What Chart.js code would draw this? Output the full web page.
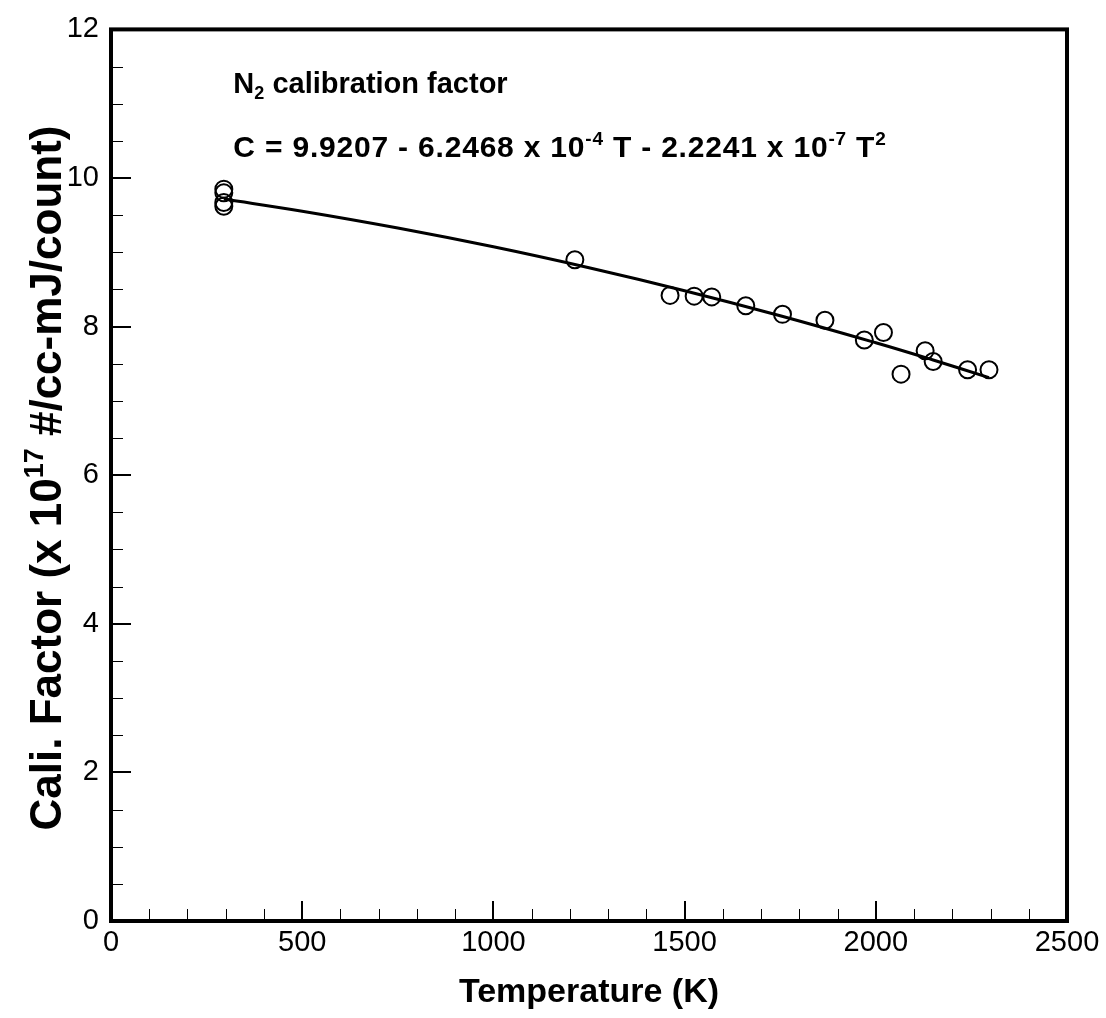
<!DOCTYPE html>
<html>
<head>
<meta charset="utf-8">
<script src="https://cdn.jsdelivr.net/npm/chart.js@4.4.0/dist/chart.umd.min.js"></script>
<style>
  html, body { margin: 0; padding: 0; background: #fff; }
</style>
</head>
<body>
<canvas id="caliChart" width="1106" height="1018"></canvas>
<script>
// measured N2 calibration points (T in K, factor in 1e17 #/cc-mJ/count)
const tempK = [295, 295, 295, 295, 1213, 1462, 1525, 1571, 1660, 1756, 1867, 1970, 2020, 2066, 2129, 2150, 2240, 2296];
const caliFactor = [9.85, 9.80, 9.67, 9.62, 8.90, 8.42, 8.41, 8.40, 8.28, 8.165, 8.085, 7.82, 7.92, 7.36, 7.675, 7.53, 7.42, 7.42];

// fit curve
const fitT = [295, 500, 750, 1000, 1250, 1500, 1750, 2000, 2150, 2296];
const fitC = [9.717, 9.553, 9.327, 9.074, 8.792, 8.483, 8.146, 7.782, 7.550, 7.314];

const xTicks = [0, 500, 1000, 1500, 2000, 2500];
const yTicks = [0, 2, 4, 6, 8, 10, 12];
const xMinorStep = 100;
const yMinorStep = 0.5;

const xTitle = "Temperature (K)";
const yTitleRuns = [["Cali. Factor (x 10", ""], ["17", "sup"], [" #/cc-mJ/count)", ""]];
const noteLine1 = [["N", ""], ["2", "sub"], [" calibration factor", ""]];
const noteLine2 = [["C = 9.9207 - 6.2468 x 10", ""], ["-4", "sup"], [" T - 2.2241 x 10", ""], ["-7", "sup"], [" T", ""], ["2", "sup"]];

const FONT = '"Liberation Sans", Arial, sans-serif';

function drawRuns(ctx, runs, x, y, size, center, spacing) {
  ctx.letterSpacing = (spacing || 0) + "px";
  const pieces = runs.map(([text, kind]) => {
    const s = kind ? Math.round(size * 0.62) : size;
    ctx.font = `bold ${s}px ${FONT}`;
    return { text, kind, s, w: ctx.measureText(text).width };
  });
  const total = pieces.reduce((sum, p) => sum + p.w, 0);
  let cx = center ? x - total / 2 : x;
  ctx.textAlign = "left";
  ctx.textBaseline = "alphabetic";
  pieces.forEach((p) => {
    ctx.font = `bold ${p.s}px ${FONT}`;
    let dy = 0;
    if (p.kind === "sup") dy = -size * 0.42;
    if (p.kind === "sub") dy = size * 0.22;
    ctx.fillText(p.text, cx, y + dy);
    cx += p.w;
  });
  ctx.letterSpacing = "0px";
}

const framePlugin = {
  id: "frame",
  afterDraw(chart) {
    const { ctx, chartArea: a, scales: { x, y } } = chart;
    ctx.save();
    ctx.strokeStyle = "#000";
    ctx.fillStyle = "#000";

    // minor ticks, inward
    ctx.lineWidth = 1;
    ctx.beginPath();
    for (let t = x.min; t <= x.max; t += xMinorStep) {
      const px = Math.round(x.getPixelForValue(t)) + 0.5;
      ctx.moveTo(px, a.bottom);
      ctx.lineTo(px, a.bottom - 12);
    }
    for (let v = y.min; v <= y.max; v += yMinorStep) {
      const py = Math.round(y.getPixelForValue(v)) + 0.5;
      ctx.moveTo(a.left, py);
      ctx.lineTo(a.left + 12, py);
    }
    ctx.stroke();

    // major ticks
    ctx.lineWidth = 2;
    ctx.beginPath();
    xTicks.forEach((t) => {
      const px = Math.round(x.getPixelForValue(t));
      ctx.moveTo(px, a.bottom);
      ctx.lineTo(px, a.bottom - 20);
    });
    yTicks.forEach((v) => {
      const py = Math.round(y.getPixelForValue(v));
      ctx.moveTo(a.left, py);
      ctx.lineTo(a.left + 20, py);
    });
    ctx.stroke();

    // frame
    ctx.lineWidth = 4;
    ctx.strokeRect(a.left, a.top, a.right - a.left, a.bottom - a.top);

    // notes inside the plot
    drawRuns(ctx, noteLine1, x.getPixelForValue(320), y.getPixelForValue(11.145), 29, false, 0);
    drawRuns(ctx, noteLine2, x.getPixelForValue(320), y.getPixelForValue(10.277), 30, false, 0.8);

    // y title, rotated
    ctx.translate(61, 478);
    ctx.rotate(-Math.PI / 2);
    drawRuns(ctx, yTitleRuns, 0, 0, 44, true, 0);
    ctx.restore();
  },
};

const ctx = document.getElementById("caliChart").getContext("2d");
new Chart(ctx, {
  type: "scatter",
  data: {
    datasets: [
      {
        label: "fit",
        data: fitT.map((t, i) => ({ x: t, y: fitC[i] })),
        showLine: true,
        borderColor: "#000",
        borderWidth: 3,
        pointRadius: 0,
        tension: 0.4,
        fill: false,
      },
      {
        label: "measured",
        data: tempK.map((t, i) => ({ x: t, y: caliFactor[i] })),
        showLine: false,
        pointStyle: "circle",
        pointRadius: 8.5,
        pointBorderWidth: 2,
        pointBorderColor: "#000",
        pointBackgroundColor: "rgba(0,0,0,0)",
      },
    ],
  },
  options: {
    responsive: false,
    animation: false,
    devicePixelRatio: 1,
    layout: { padding: { left: 0, right: 39, top: 23, bottom: 0 } },
    plugins: { legend: { display: false }, tooltip: { enabled: false } },
    scales: {
      x: {
        type: "linear",
        min: 0,
        max: 2500,
        afterBuildTicks: (scale) => { scale.ticks = xTicks.map((v) => ({ value: v })); },
        afterFit: (scale) => { scale.height = 97; },
        grid: { display: false, drawTicks: false },
        border: { display: false },
        ticks: {
          color: "#000",
          padding: 5,
          maxRotation: 0,
          callback: (v) => String(v),
          font: { family: FONT, size: 29, lineHeight: 1.2 },
        },
        title: {
          display: true,
          text: xTitle,
          color: "#000",
          padding: { top: 0, bottom: 5 },
          font: { family: FONT, size: 34, weight: "bold", lineHeight: 1.2 },
        },
      },
      y: {
        type: "linear",
        min: 0,
        max: 12,
        afterBuildTicks: (scale) => { scale.ticks = yTicks.map((v) => ({ value: v })); },
        afterFit: (scale) => { scale.width = 111; },
        grid: { display: false, drawTicks: false },
        border: { display: false },
        ticks: {
          color: "#000",
          padding: 12,
          callback: (v) => String(v),
          font: { family: FONT, size: 29, lineHeight: 1.2 },
        },
      },
    },
  },
  plugins: [framePlugin],
});
</script>
</body>
</html>
